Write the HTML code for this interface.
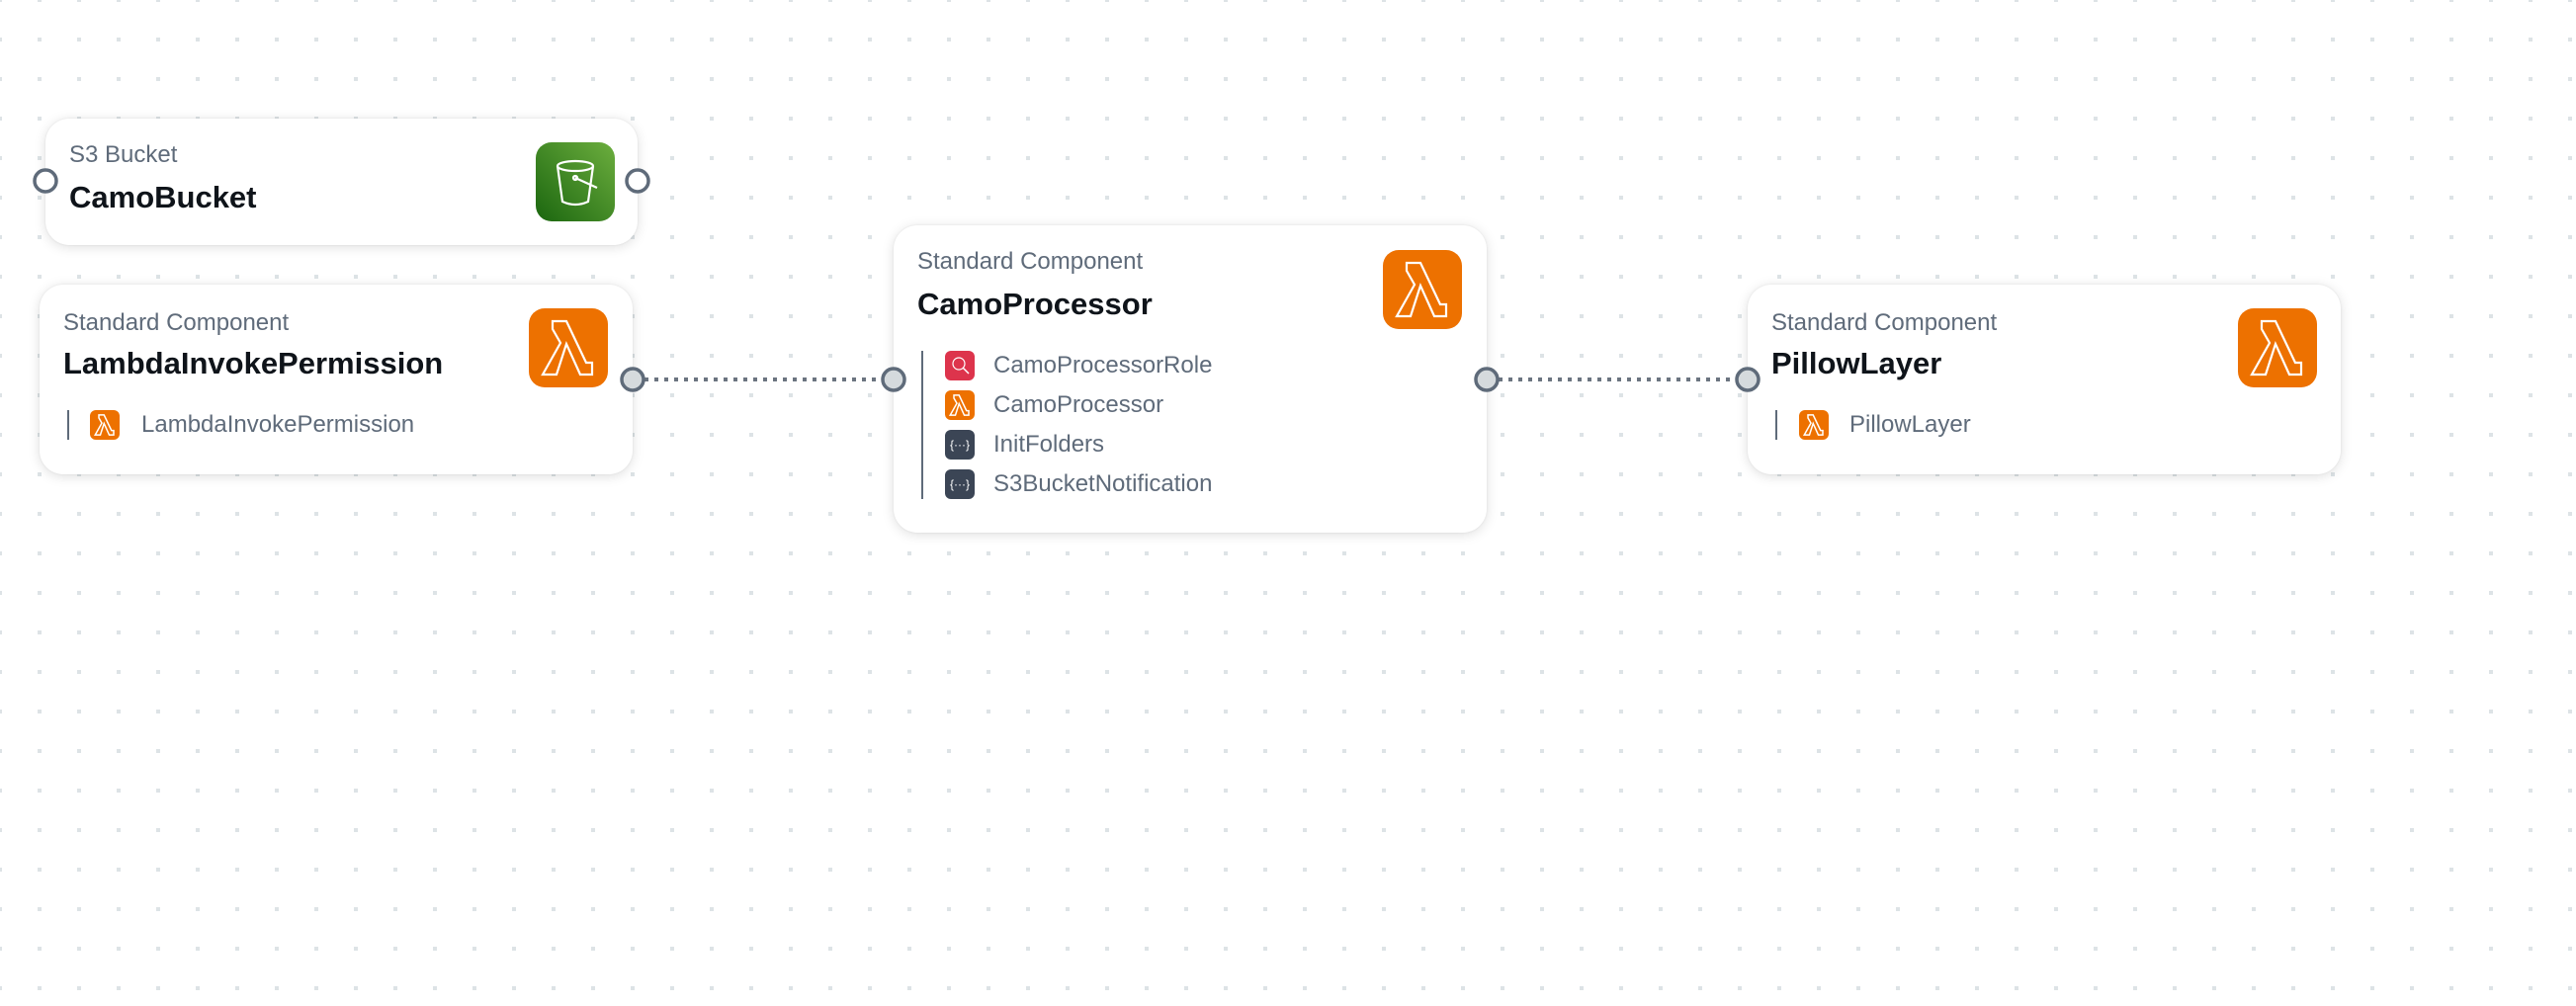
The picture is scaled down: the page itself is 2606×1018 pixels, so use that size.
<!DOCTYPE html>
<html><head><meta charset="utf-8"><style>
*{margin:0;padding:0;box-sizing:border-box}
body{width:2606px;height:1018px;position:relative;overflow:hidden;background:#fff;font-family:"Liberation Sans",sans-serif;}
.card{position:absolute;background:#fff;border-radius:24px;box-shadow:0 2px 12px rgba(0,0,0,0.13),0 0 2px rgba(0,0,0,0.08);}
.sub{position:absolute;font-size:24px;color:#5f6b7a;white-space:nowrap}
.title{position:absolute;font-size:31px;font-weight:bold;color:#0f141a;white-space:nowrap}
.big{position:absolute;width:80px;height:80px;border-radius:16px}
.item{position:absolute;font-size:24px;color:#5f6b7a;white-space:nowrap;line-height:30px}
.ic{position:absolute;width:30px;height:30px;border-radius:6px}
.bar{position:absolute;width:2px;background:#5f6b7a}
.or{background:#ed7100}.gr{background:linear-gradient(45deg,#1b660f,#6cae3e)}.rd{background:#dd344c}.dk{background:#3b4555}
svg{position:absolute;left:0;top:0}
</style></head><body>
<svg width="2606" height="1018" style="z-index:0">
<defs><pattern id="d" x="-2" y="-2" width="40" height="40" patternUnits="userSpaceOnUse"><rect x="0" y="0" width="4" height="4" fill="#dde3e6"/></pattern>
<symbol id="lam" viewBox="0 0 80 80"><path d="M24 13h14l20 42h6v12H52L38 36 28 67H14l18-32-8-14z" fill="none" stroke="#fff" stroke-width="2.2" stroke-linejoin="miter"/></symbol>
<symbol id="lams" viewBox="0 0 80 80"><path d="M24 13h14l20 42h6v12H52L38 36 28 67H14l18-32-8-14z" fill="none" stroke="#fff" stroke-width="4"/></symbol>
</defs>
<rect width="2606" height="1018" fill="#fff"/>
<rect width="2606" height="1018" fill="url(#d)"/>
</svg>

<div class="card" style="left:46px;top:120px;width:599px;height:128px">
<div class="sub" style="left:24px;top:23px">S3 Bucket</div>
<div class="title" style="left:24px;top:62px">CamoBucket</div>
<div class="big gr" style="left:496px;top:24px"><svg width="80" height="80" viewBox="0 0 80 80"><g fill="none" stroke="#fff" stroke-width="2.2"><ellipse cx="40" cy="24" rx="18" ry="5"/><path d="M22 24 L27 60 Q40 66 53 60 L58 24"/><path d="M40 36 L62 46"/><circle cx="40" cy="36" r="2"/></g></svg></div>
</div>

<div class="card" style="left:40px;top:288px;width:600px;height:192px">
<div class="sub" style="left:24px;top:25px">Standard Component</div>
<div class="title" style="left:24px;top:62px">LambdaInvokePermission</div>
<div class="big or" style="left:495px;top:24px"><svg width="80" height="80"><use href="#lam"/></svg></div>
<div class="bar" style="left:28px;top:127px;height:30px"></div>
<div class="ic or" style="left:51px;top:127px"><svg width="30" height="30"><use href="#lams"/></svg></div>
<div class="item" style="left:103px;top:127px">LambdaInvokePermission</div>
</div>

<div class="card" style="left:904px;top:228px;width:600px;height:311px">
<div class="sub" style="left:24px;top:23px">Standard Component</div>
<div class="title" style="left:24px;top:62px">CamoProcessor</div>
<div class="big or" style="left:495px;top:25px"><svg width="80" height="80"><use href="#lam"/></svg></div>
<div class="bar" style="left:28px;top:127px;height:150px"></div>
<div class="ic rd" style="left:52px;top:127px"><svg width="30" height="30"><circle cx="14" cy="13" r="6" fill="none" stroke="#fff" stroke-width="1.2"/><path d="M18 17l6 6" stroke="#fff" stroke-width="1.5"/></svg></div>
<div class="item" style="left:101px;top:127px">CamoProcessorRole</div>
<div class="ic or" style="left:52px;top:167px"><svg width="30" height="30"><use href="#lams"/></svg></div>
<div class="item" style="left:101px;top:167px">CamoProcessor</div>
<div class="ic dk" style="left:52px;top:207px;color:#fff;font-size:12px;text-align:center;line-height:30px">{···}</div>
<div class="item" style="left:101px;top:207px">InitFolders</div>
<div class="ic dk" style="left:52px;top:247px;color:#fff;font-size:12px;text-align:center;line-height:30px">{···}</div>
<div class="item" style="left:101px;top:247px">S3BucketNotification</div>
</div>

<div class="card" style="left:1768px;top:288px;width:600px;height:192px">
<div class="sub" style="left:24px;top:25px">Standard Component</div>
<div class="title" style="left:24px;top:62px">PillowLayer</div>
<div class="big or" style="left:496px;top:24px"><svg width="80" height="80"><use href="#lam"/></svg></div>
<div class="bar" style="left:28px;top:127px;height:30px"></div>
<div class="ic or" style="left:52px;top:127px"><svg width="30" height="30"><use href="#lams"/></svg></div>
<div class="item" style="left:103px;top:127px">PillowLayer</div>
</div>

<svg width="2606" height="1018" style="z-index:5">
<g stroke="#6b7480" stroke-width="4" stroke-dasharray="4 6" fill="none">
<line x1="652" y1="384" x2="892" y2="384"/>
<line x1="1516" y1="384" x2="1756" y2="384"/>
</g>
<g stroke="#5f6b7a" stroke-width="3.5">
<circle cx="46" cy="183" r="11" fill="#fff"/>
<circle cx="645" cy="183" r="11" fill="#fff"/>
<circle cx="640" cy="384" r="11" fill="#d5dadd"/>
<circle cx="904" cy="384" r="11" fill="#d5dadd"/>
<circle cx="1504" cy="384" r="11" fill="#d5dadd"/>
<circle cx="1768" cy="384" r="11" fill="#d5dadd"/>
</g>
</svg>
</body></html>
